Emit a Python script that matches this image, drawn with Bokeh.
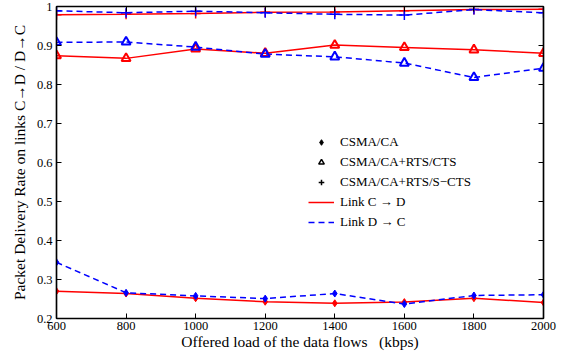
from bokeh.plotting import figure
from bokeh.models import LinearAxis, FixedTicker, Legend, LegendItem, Range1d
from bokeh.embed import file_html
from bokeh.resources import INLINE

# ---- data ----
loads = [600, 800, 1000, 1200, 1400, 1600, 1800, 2000]
ca_cd = [0.270, 0.264, 0.252, 0.243, 0.239, 0.242, 0.252, 0.241]
ca_dc = [0.344, 0.266, 0.258, 0.251, 0.264, 0.237, 0.259, 0.261]
rts_cd = [0.874, 0.867, 0.891, 0.880, 0.901, 0.895, 0.889, 0.880]
rts_dc = [0.908, 0.909, 0.896, 0.878, 0.871, 0.855, 0.818, 0.842]
scts_cd = [0.979, 0.980, 0.982, 0.985, 0.986, 0.989, 0.992, 0.993]
scts_dc = [0.989, 0.984, 0.988, 0.984, 0.980, 0.978, 0.992, 0.984]

x_ticks = [600, 800, 1000, 1200, 1400, 1600, 1800, 2000]
y_ticks = [0.2, 0.3, 0.4, 0.5, 0.6, 0.7, 0.8, 0.9, 1.0]
y_tick_labels = ["0.2", "0.3", "0.4", "0.5", "0.6", "0.7", "0.8", "0.9", "1"]

FONT = "Liberation Serif"
RED = "#ff0000"
BLUE = "#0000ff"
NAN = float("nan")

p = figure(width=569, height=352, output_backend="svg", toolbar_location=None,
           x_range=Range1d(600, 2000), y_range=Range1d(0.2, 1.0),
           min_border_left=56, min_border_right=26, min_border_top=6, min_border_bottom=34)
p.grid.visible = False
p.outline_line_color = "black"
p.outline_line_width = 1.2
p.background_fill_color = "white"


def style_axis(ax, labels=True):
    ax.axis_line_color = "black"
    ax.axis_line_width = 1.5
    ax.major_tick_in = 5
    ax.major_tick_out = 0
    ax.major_tick_line_color = "black"
    ax.minor_tick_line_color = None
    ax.major_label_text_font = FONT
    ax.major_label_text_font_size = "12.5px"
    ax.major_label_text_color = "black"
    ax.axis_label_text_font = FONT
    ax.axis_label_text_font_size = "15.5px"
    ax.axis_label_text_font_style = "normal"
    ax.axis_label_text_color = "black"
    if not labels:
        ax.major_label_text_color = None
        ax.major_label_text_font_size = "1px"
        ax.major_label_standoff = 0


p.xaxis.ticker = FixedTicker(ticks=x_ticks)
p.yaxis.ticker = FixedTicker(ticks=y_ticks)
p.yaxis.major_label_overrides = {t: l for t, l in zip(y_ticks, y_tick_labels)}
style_axis(p.xaxis[0])
style_axis(p.yaxis[0])
p.xaxis.major_label_standoff = 3
p.yaxis.major_label_standoff = 4
p.xaxis.axis_label_standoff = 0
p.yaxis.axis_label_standoff = 6
p.xaxis.axis_label = "Offered load of the data flows \u00a0\u00a0(kbps)"
p.yaxis.axis_label = "Packet Delivery Rate on links C\u2192D / D\u2192C"

top = LinearAxis(ticker=FixedTicker(ticks=x_ticks))
right = LinearAxis(ticker=FixedTicker(ticks=y_ticks))
style_axis(top, labels=False)
style_axis(right, labels=False)
p.add_layout(top, "above")
p.add_layout(right, "right")

DASH = "6 4"

# Link C->D (red solid)
l_cd = p.line(loads, scts_cd, line_color=RED, line_width=1.5)
p.line(loads, rts_cd, line_color=RED, line_width=1.5)
p.line(loads, ca_cd, line_color=RED, line_width=1.5)
# Link D->C (blue dashed)
l_dc = p.line(loads, scts_dc, line_color=BLUE, line_width=1.5, line_dash=DASH)
p.line(loads, rts_dc, line_color=BLUE, line_width=1.5, line_dash=DASH)
p.line(loads, ca_dc, line_color=BLUE, line_width=1.5, line_dash=DASH)

# markers
p.scatter(loads, ca_cd, marker="diamond", size=7, color=RED)
p.scatter(loads, ca_dc, marker="diamond", size=7, color=BLUE)
p.scatter(loads, rts_cd, marker="triangle", size=9, line_color=RED, fill_color=None, line_width=2)
p.scatter(loads, rts_dc, marker="triangle", size=9, line_color=BLUE, fill_color=None, line_width=2)
p.scatter(loads, scts_cd, marker="cross", size=10, line_color=RED, line_width=1.5)
p.scatter(loads, scts_dc, marker="cross", size=10, line_color=BLUE, line_width=1.5)

# legend-only black markers (no visible point in the plot)
k_ca = p.scatter([NAN], [NAN], marker="diamond", size=7, color="black")
k_rts = p.scatter([NAN], [NAN], marker="triangle", size=7, line_color="black", fill_color=None, line_width=1.5)
k_scts = p.scatter([NAN], [NAN], marker="cross", size=7, line_color="black", line_width=1.5)

legend = Legend(items=[
    LegendItem(label="CSMA/CA", renderers=[k_ca]),
    LegendItem(label="CSMA/CA+RTS/CTS", renderers=[k_rts]),
    LegendItem(label="CSMA/CA+RTS/S\u2212CTS", renderers=[k_scts]),
    LegendItem(label="Link C \u2192 D", renderers=[l_cd]),
    LegendItem(label="Link D \u2192 C", renderers=[l_dc]),
], location=(252, 88))
legend.border_line_color = None
legend.background_fill_alpha = 0
legend.label_text_font = FONT
legend.label_text_font_size = "13px"
legend.label_text_color = "black"
legend.glyph_width = 26
legend.glyph_height = 14
legend.spacing = 4
legend.padding = 4
legend.label_standoff = 6
p.add_layout(legend, "center")

open("out.html", "w").write(file_html(p, INLINE))
